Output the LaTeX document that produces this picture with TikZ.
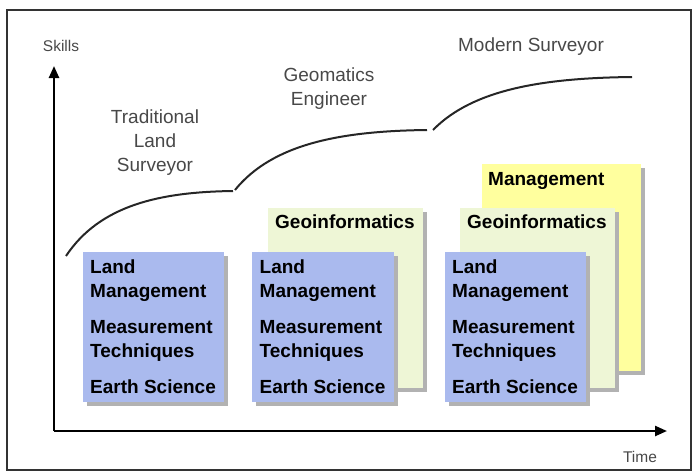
\documentclass[tikz,border=0pt]{standalone}
\usepackage{fontspec}
\setmainfont{Liberation Sans}
\usetikzlibrary{positioning,shadows,arrows.meta}

\definecolor{landblue}{RGB}{170,186,238}
\definecolor{geogreen}{RGB}{238,246,214}
\definecolor{mgmtyellow}{RGB}{255,255,158}
\definecolor{rolegray}{RGB}{72,72,72}

\begin{document}
\begin{tikzpicture}[x=1pt,y=-1pt,
      card/.style={rectangle,anchor=north west,inner sep=0pt,
        drop shadow={shadow xshift=4pt,shadow yshift=-4pt,fill=black!30,opacity=1}},
      landcard/.style={card,fill=landblue,minimum width=141.5pt,minimum height=150pt},
      geocard/.style={card,fill=geogreen,minimum width=154.5pt,minimum height=180pt},
      mgmtcard/.style={card,fill=mgmtyellow,minimum width=159.5pt,minimum height=207pt},
      cardtext/.style={inner sep=0pt,align=left,font=\fontsize{19}{24}\selectfont\bfseries},
      role/.style={align=center,text=rolegray,font=\fontsize{19}{24}\selectfont},
      axislabel/.style={text=rolegray,font=\fontsize{15.5}{18}\selectfont},
      axis/.style={line width=2.4pt,-{Triangle[length=12pt,width=10pt]}},
      career/.style={line width=2pt,black!85}
      ]
      \useasboundingbox (0,0) rectangle (696,472);
      \draw[line width=2pt,black!80] (7,9.5) rectangle (691,470);

      % skill stacks, back to front
      \node (mgmt3) [mgmtcard] at (481.5,164) {};
      \node (geo2)  [geocard]  at (268,208)   {};
      \node (geo3)  [geocard]  at (460,208)   {};
      \node (land1) [landcard] at (82.5,252)  {};
      \node (land2) [landcard] at (252,252)   {};
      \node (land3) [landcard] at (444.5,252) {};

      \node (m3) [cardtext,below right=8pt and 6.5pt of mgmt3.north west] {Management};
      \node (g2) [cardtext,below right=7pt and 7pt of geo2.north west] {Geoinformatics};
      \node (g3) [cardtext,below right=7pt and 7pt of geo3.north west] {Geoinformatics};
      \foreach \i in {1,2,3}
        \node (l\i) [cardtext,below right=8pt and 7.5pt of land\i.north west]
          {Land\\Management\\[12pt]Measurement\\Techniques\\[12pt]Earth Science};

      % axes
      \coordinate (origin) at (54,431);
      \coordinate (skilltop) at (54,66);
      \coordinate (timeend) at (667,431);
      \draw[axis] (origin) -- (skilltop);
      \draw[axis] (origin) -- (timeend);
      \node (skills) [axislabel] at (61,46) {Skills};
      \node (time) [axislabel] at (640,457) {Time};

      % career curve
      \draw[career] (66,256) .. controls (100,205) and (160,192) .. (233,191);
      \draw[career] (235,190) .. controls (273,143) and (343,131) .. (427,130);
      \draw[career] (433,130) .. controls (473,89) and (544,78) .. (632,77);

      \node (trad) [role] at (155,143) {Traditional\\Land\\Surveyor};
      \node (geom) [role] at (329,88.5) {Geomatics\\Engineer};
      \node (modern) [role] at (531,47) {Modern Surveyor};
    \end{tikzpicture}
\end{document}
